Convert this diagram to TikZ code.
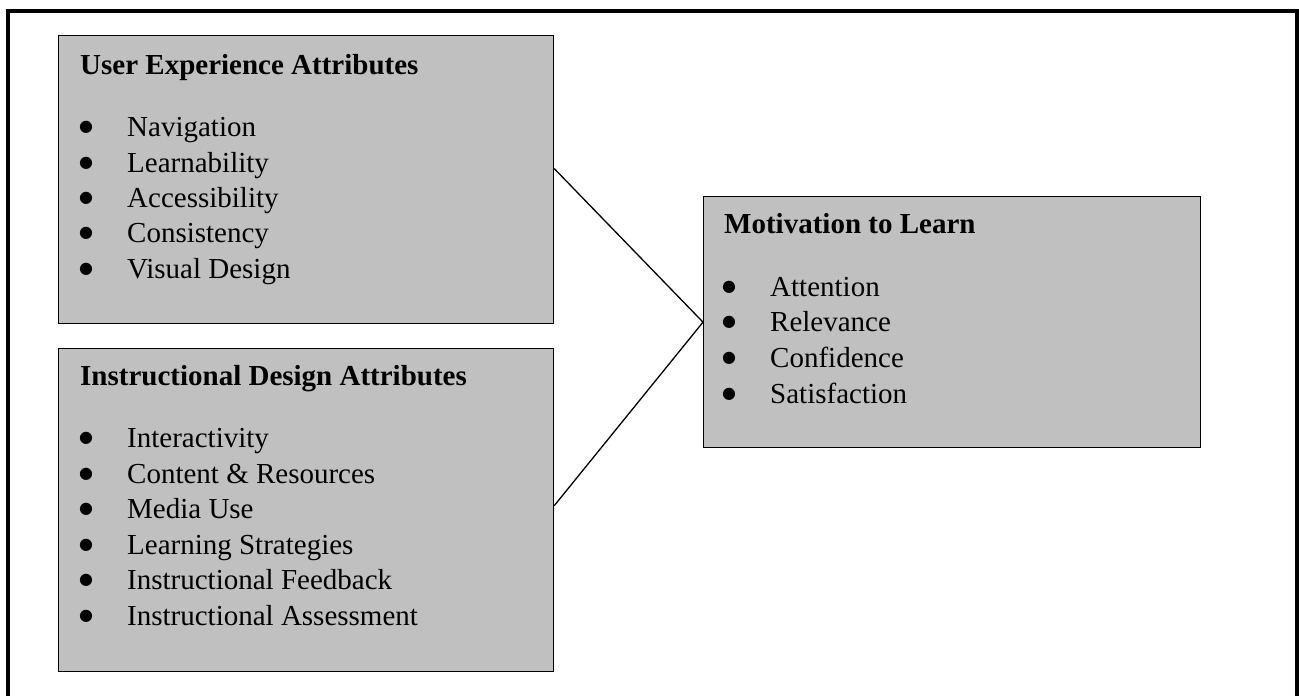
\documentclass[tikz,border=0pt]{standalone}
\usepackage{fontspec}
\setmainfont{Liberation Serif}
\newfontfamily\bulletfont{DejaVu Sans}
\usetikzlibrary{calc}
\definecolor{boxfill}{HTML}{C0C0C0}
% a list entry: round bullet, then the item text at a fixed indent
\newcommand{\listentry}[1]{\makebox[48pt][l]{\raisebox{4.5pt}{\bulletfont\fontsize{16}{16}\selectfont ●}}#1}
\begin{document}
\begin{tikzpicture}[x=1pt,y=-1pt,
  attrbox/.style={draw=black,line width=1.3pt,fill=boxfill,rectangle,inner sep=0pt,anchor=north west},
  txt/.style={anchor=base west,inner sep=0pt,font=\fontsize{29}{35}\selectfont},
  head/.style={txt,font=\fontsize{29}{35}\selectfont\bfseries},
  link/.style={draw=black,line width=1.3pt}]
\useasboundingbox (0,0) rectangle (1299,696);
% outer frame (its lower edge lies below the page)
\draw[line width=3.6pt] (8,11) rectangle (1297,730);

% the three attribute boxes
\node[attrbox,minimum width=495pt,minimum height=288pt] (ux) at (58,35) {};
\node[attrbox,minimum width=495pt,minimum height=323pt] (id) at (58,348) {};
\node[attrbox,minimum width=497pt,minimum height=251pt] (mot) at (703,196) {};

% connectors
\coordinate (uxout) at ($(ux.north east)!0.462!(ux.south east)$);
\coordinate (idout) at ($(id.north east)!0.486!(id.south east)$);
\draw[link] (uxout) -- (mot.west) -- (idout);

% User Experience Attributes
\node[head] (uxh) at (80,74) {User Experience Attributes};
\foreach \t/\y [count=\i] in {Navigation/136,Learnability/172,Accessibility/207,Consistency/242,Visual Design/278}{
  \node[txt] (uxt\i) at (79,\y) {\listentry{\t}};
}

% Instructional Design Attributes
\node[head] (idh) at (80,385) {Instructional Design Attributes};
\foreach \t/\y [count=\i] in {Interactivity/447,Content \& Resources/483,Media Use/518,Learning Strategies/554,Instructional Feedback/589,Instructional Assessment/625}{
  \node[txt] (idt\i) at (79,\y) {\listentry{\t}};
}

% Motivation to Learn
\node[head] (moth) at (724,233) {Motivation to Learn};
\foreach \t/\y [count=\i] in {Attention/296,Relevance/331,Confidence/367,Satisfaction/403}{
  \node[txt] (mott\i) at (722,\y) {\listentry{\t}};
}
\end{tikzpicture}
\end{document}
